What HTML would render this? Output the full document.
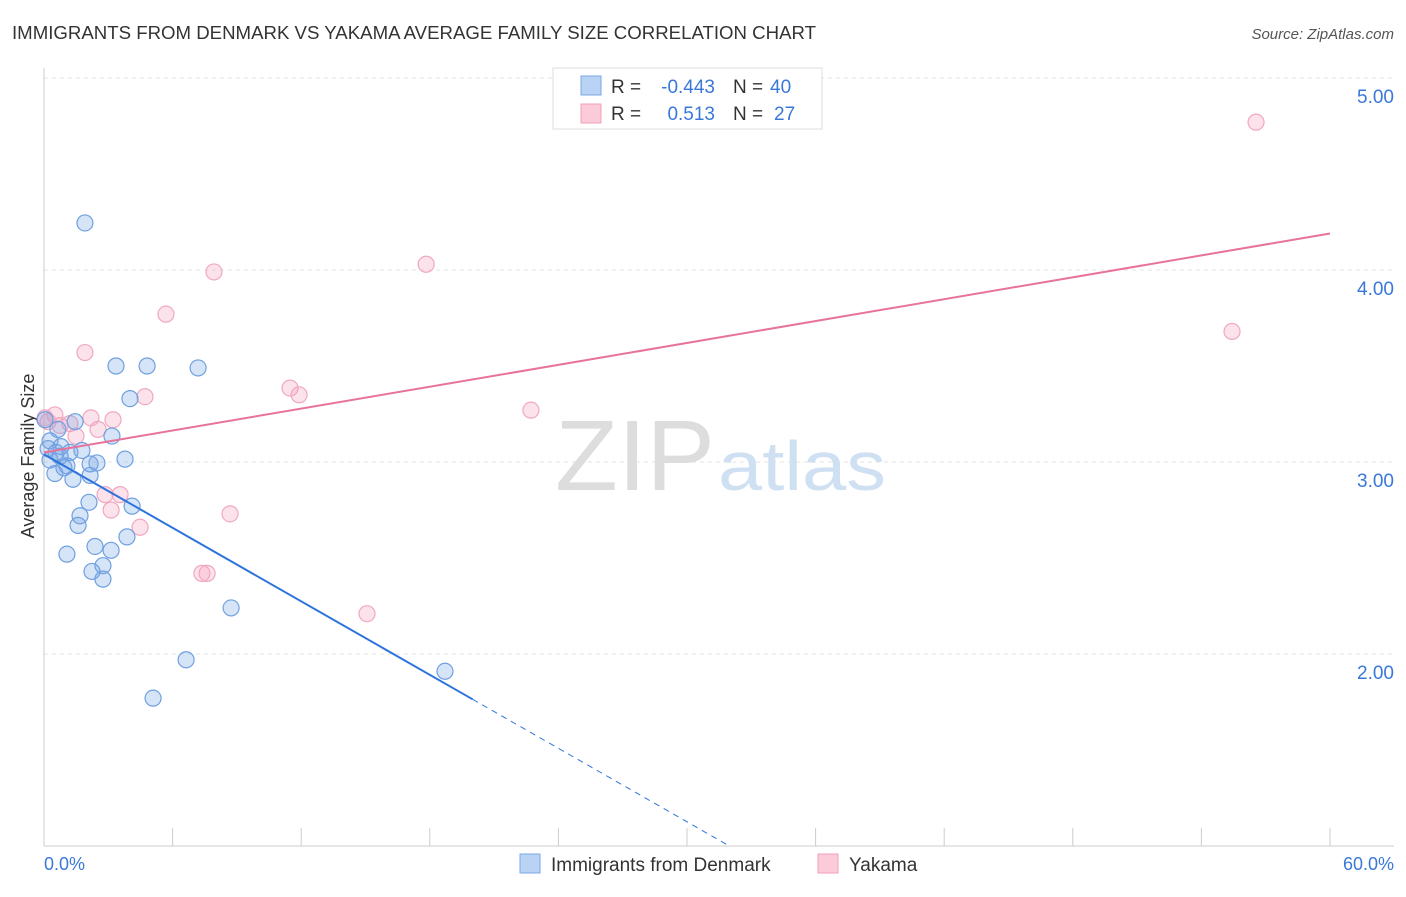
<!DOCTYPE html>
<html><head><meta charset="utf-8"><style>
body{margin:0;background:#fff;font-family:"Liberation Sans",sans-serif;}
svg text{font-family:"Liberation Sans",sans-serif;}
</style></head><body>
<svg id="chart" width="1406" height="892" viewBox="0 0 1406 892">
<text x="12" y="39" font-size="18" fill="#333" textLength="804" lengthAdjust="spacingAndGlyphs">IMMIGRANTS FROM DENMARK VS YAKAMA AVERAGE FAMILY SIZE CORRELATION CHART</text>
<text x="1394" y="39" font-size="15" fill="#555" font-style="italic" text-anchor="end">Source: ZipAtlas.com</text>
<g id="grid"></g>
<text x="555" y="490" font-size="100" fill="#ddd" textLength="160" lengthAdjust="spacingAndGlyphs" font-family="Liberation Serif">ZIP</text>
<text x="718" y="490" font-size="70" fill="#cfe0f3" textLength="168" lengthAdjust="spacingAndGlyphs">atlas</text>
<text transform="translate(34,456) rotate(-90)" font-size="18" fill="#333" text-anchor="middle">Average Family Size</text>
<text x="44" y="870" font-size="18" fill="#3a78d8">0.0%</text>
<text x="1394" y="870" font-size="18" fill="#3a78d8" text-anchor="end">60.0%</text>
<g id="points"></g>
<g id="lines"></g>
<g>
<rect x="553" y="68" width="269" height="61" fill="#fff" stroke="#ddd"/>
<rect x="581" y="76" width="20" height="19" fill="#b9d3f5" stroke="#7aa7e6"/>
<rect x="581" y="104" width="20" height="19" fill="#fbcbd9" stroke="#f0a0b8"/>
<text x="611" y="93" font-size="19" fill="#333">R =</text>
<text x="715" y="93" font-size="19" fill="#3a78d8" text-anchor="end">-0.443</text>
<text x="733" y="93" font-size="19" fill="#333">N =</text>
<text x="770" y="93" font-size="19" fill="#3a78d8">40</text>
<text x="611" y="120" font-size="19" fill="#333">R =</text>
<text x="715" y="120" font-size="19" fill="#3a78d8" text-anchor="end">0.513</text>
<text x="733" y="120" font-size="19" fill="#333">N =</text>
<text x="774" y="120" font-size="19" fill="#3a78d8">27</text>
</g>
<g>
<rect x="520" y="854" width="20" height="19" fill="#b9d3f5" stroke="#7aa7e6"/>
<text x="551" y="871" font-size="19" fill="#333">Immigrants from Denmark</text>
<rect x="818" y="854" width="20" height="19" fill="#fbcbd9" stroke="#f0a0b8"/>
<text x="849" y="871" font-size="19" fill="#333">Yakama</text>
</g>
</svg>
<script>
const blueX=[1.91,3.36,4.81,7.19,4.01,3.17,3.78,2.47,1.77,1.21,0.79,0.28,0.19,0.65,1.45,0.51,0.93,1.35,2.15,1.07,2.10,4.11,1.68,1.59,3.87,2.38,3.13,1.07,2.75,2.24,2.75,8.73,6.63,5.09,18.71,0.75,0.28,0.05,2.15,0.56];
const blueY=[4.245,3.50,3.50,3.49,3.33,3.135,3.015,2.995,3.06,3.05,3.08,3.11,3.07,3.17,3.21,2.94,2.97,2.91,2.93,2.98,2.79,2.77,2.72,2.67,2.61,2.56,2.54,2.52,2.46,2.43,2.39,2.24,1.97,1.77,1.91,3.03,3.01,3.22,2.99,3.05];
const pinkX=[56.55,17.83,7.93,5.69,1.91,55.43,11.48,11.90,4.71,22.72,2.19,3.22,0.51,1.21,2.52,1.49,0.19,3.55,2.85,3.13,4.48,8.68,7.37,7.61,15.07,0.75,0.05];
const pinkY=[4.77,4.03,3.99,3.77,3.57,3.68,3.385,3.35,3.34,3.27,3.23,3.22,3.245,3.20,3.17,3.135,3.21,2.83,2.83,2.75,2.66,2.73,2.42,2.42,2.21,3.19,3.23];
const yTicks=[2,3,4,5];
const yTickLabels=["2.00","3.00","4.00","5.00"];
const blueTrend=[3.04,-0.0638];
const pinkTrend=[3.05,0.019];
const NS="http://www.w3.org/2000/svg";
const xs=v=>44+v*21.433;
const ys=v=>846-(v-1)*192;
function mk(tag,attrs,parent){const e=document.createElementNS(NS,tag);for(const k in attrs)e.setAttribute(k,attrs[k]);parent.appendChild(e);return e;}
const grid=document.getElementById('grid');
yTicks.forEach((t,i)=>{
 const l=mk('line',{x1:44,x2:1394,y1:ys(t),y2:ys(t),stroke:'#e3e3e3','stroke-dasharray':'4,4'},grid);
 
 
 const tx=mk('text',{x:1394,y:ys(t)+25,'font-size':19,fill:'#3a78d8','text-anchor':'end'},grid);
 tx.textContent=yTickLabels[i];
 
 
});
mk('line',{x1:44,x2:44,y1:68,y2:846,stroke:'#ccc'},grid);
mk('line',{x1:44,x2:1394,y1:846,y2:846,stroke:'#ccc'},grid);
for(let i=0;i<=10;i++){const t=mk('line',{x1:xs(i*6),x2:xs(i*6),y1:828,y2:846,stroke:'#ccc'},grid);
 
 }
const pts=document.getElementById('points');
pinkX.forEach((x,i)=>{const c=mk('circle',{cx:xs(x),cy:ys(pinkY[i]),r:8,fill:'rgba(245,160,190,0.3)',stroke:'#f0a8c0','stroke-width':1.2},pts);
 
 });
blueX.forEach((x,i)=>{const c=mk('circle',{cx:xs(x),cy:ys(blueY[i]),r:8,fill:'rgba(120,165,230,0.3)',stroke:'#6fa0e0','stroke-width':1.2},pts);
 
 });
const ln=document.getElementById('lines');
const b=x=>blueTrend[0]+blueTrend[1]*x, p=x=>pinkTrend[0]+pinkTrend[1]*x;
let e=mk('line',{x1:xs(0),y1:ys(b(0)),x2:xs(20),y2:ys(b(20)),stroke:'#2f74dc','stroke-width':2},ln);


const xe=(1-blueTrend[0])/blueTrend[1];
e=mk('line',{x1:xs(20),y1:ys(b(20)),x2:xs(xe),y2:ys(b(xe)),stroke:'#2f74dc','stroke-width':1,'stroke-dasharray':'6,5'},ln);


e=mk('line',{x1:xs(0),y1:ys(p(0)),x2:xs(60),y2:ys(p(60)),stroke:'#e8739a','stroke-width':2},ln);


</script>
</body></html>
